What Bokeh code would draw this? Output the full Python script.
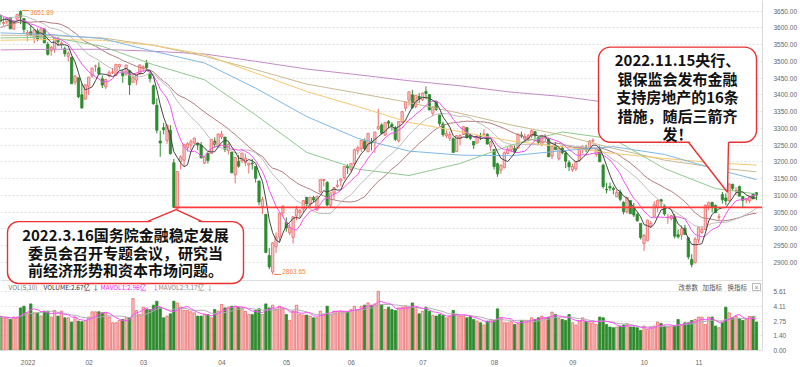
import numpy as np
import pandas as pd
from bokeh.plotting import figure
from bokeh.models import Range1d, FixedTicker, CustomJSTickFormatter, Span, BoxAnnotation, ColumnDataSource
from bokeh.core.properties import value
from bokeh.embed import file_html
from bokeh.resources import INLINE

# ------------------------------------------------------------------ data
month_labels = ["2022", "02", "03", "04", "05", "06", "07", "08", "09", "10", "11"]
month_start_idx = [6, 25, 41, 64, 83, 102, 123, 144, 167, 188, 204]
event_idx = [51, 214]          # 2022-03-15 close level, 2022-11-15

# closes 2021-11-01 .. 2021-12-23 (for the short moving averages)
prior_closes = [3544, 3506, 3499, 3527, 3492, 3499, 3507, 3492, 3533, 3539, 3533, 3522, 3537, 3521,
                3560, 3582, 3589, 3593, 3584, 3564, 3563, 3564,
                3577, 3574, 3607, 3589, 3595, 3638, 3673, 3666, 3681, 3662, 3648, 3675, 3632, 3594,
                3625, 3623, 3643]

opens = [3637, 3613, 3617, 3630, 3596, 3626,
         3649, 3628, 3581, 3588, 3571, 3591, 3573, 3596, 3551, 3532, 3535, 3563, 3552, 3538, 3515, 3512, 3438, 3451, 3400,
         3387, 3426, 3456, 3485, 3481, 3448, 3424, 3456, 3467, 3458, 3484, 3465, 3462, 3472, 3437, 3444,
         3462, 3481, 3494, 3464, 3427, 3369, 3262, 3302, 3264, 3294, 3197, 3060, 3201, 3205, 3243, 3250, 3257, 3254, 3250, 3196, 3225, 3225, 3262,
         3245, 3274, 3274, 3234, 3229, 3161, 3202, 3203, 3197, 3190, 3196, 3186, 3143, 3066, 3043, 2920, 2871, 2946, 2975,
         3047, 3019, 2988, 2974, 3038, 3048, 3059, 3094, 3073, 3093, 3056, 3110, 3144, 3138, 3070, 3107, 3127, 3143, 3153,
         3186, 3177, 3195, 3233, 3239, 3262, 3230, 3262, 3257, 3298, 3310, 3280, 3320, 3312, 3302, 3262, 3319, 3360, 3384, 3400, 3365,
         3395, 3385, 3410, 3401, 3345, 3379, 3340, 3313, 3278, 3270, 3269, 3231, 3270, 3282, 3302, 3277, 3261, 3256, 3278, 3282, 3282,
         3246, 3237, 3194, 3175, 3183, 3225, 3236, 3240, 3241, 3280, 3267, 3272, 3277, 3290, 3273, 3250, 3275, 3269, 3217, 3247, 3209, 3241, 3226,
         3198, 3176, 3179, 3204, 3238, 3242, 3240, 3262, 3222, 3237, 3190, 3118, 3126, 3121, 3095, 3110, 3079, 3050, 3084, 3064, 3042,
         3016, 2956, 2964, 3008, 3037, 3064, 3087, 3068, 3033, 3030, 3036, 2982, 2981, 3002, 2973, 2908,
         2899, 2967, 2989, 2998, 3068, 3079, 3070, 3034, 3102, 3092, 3084, 3133, 3114, 3126, 3096, 3086, 3084, 3103, 3108]
highs = [3640, 3632, 3631, 3632, 3623, 3642,
         3651.89, 3628, 3594, 3608, 3594, 3598, 3598, 3598, 3558, 3546, 3570, 3573, 3560, 3544, 3530, 3514, 3458, 3451, 3434,
         3430, 3453, 3481, 3490, 3497, 3458, 3446, 3473, 3480, 3491, 3492, 3474, 3490, 3475, 3463, 3463,
         3491, 3488, 3504, 3468, 3431, 3390, 3293, 3316, 3310, 3309, 3209, 3171, 3219, 3253, 3258, 3267, 3272, 3256, 3259, 3217, 3226, 3267, 3273,
         3285, 3292, 3274, 3257, 3229, 3213, 3220, 3226, 3225, 3196, 3209, 3186, 3143, 3095, 3043, 2943, 2959, 2989, 3048,
         3070, 3034, 3016, 3036, 3068, 3058, 3085, 3095, 3095, 3098, 3097, 3147, 3150, 3142, 3108, 3125, 3146, 3150, 3187,
         3193, 3195, 3239, 3247, 3265, 3270, 3285, 3271, 3289, 3358, 3315, 3317, 3325, 3318, 3307, 3321, 3350, 3380, 3410, 3415, 3399,
         3406, 3407, 3425, 3402, 3365, 3380, 3340, 3320, 3294, 3291, 3273, 3280, 3281, 3306, 3304, 3284, 3262, 3279, 3286, 3297, 3285,
         3262, 3237, 3197, 3193, 3231, 3245, 3248, 3248, 3285, 3290, 3284, 3283, 3297, 3292, 3274, 3279, 3283, 3271, 3249, 3259, 3241, 3248, 3231,
         3205, 3194, 3200, 3244, 3249, 3251, 3265, 3270, 3237, 3249, 3194, 3137, 3138, 3126, 3117, 3117, 3082, 3094, 3086, 3077, 3048,
         3016, 2985, 3027, 3023, 3082, 3087, 3089, 3073, 3045, 3042, 3044, 2998, 3010, 3012, 2976, 2924,
         2975, 3005, 3008, 3071, 3081, 3079, 3072, 3045, 3110, 3106, 3135, 3134, 3124, 3129, 3098, 3092, 3097, 3104, 3110]
lows = [3608, 3607, 3610, 3596, 3596, 3624,
        3611, 3583, 3560, 3574, 3554, 3560, 3566, 3555, 3517, 3517, 3525, 3545, 3538, 3514, 3499, 3433, 3430, 3390, 3358,
        3387, 3400, 3451, 3469, 3460, 3420, 3417, 3452, 3462, 3457, 3476, 3436, 3457, 3400, 3437, 3429,
        3459, 3469, 3476, 3437, 3371, 3285, 3215, 3282, 3254, 3222, 3062, 3023, 3177, 3187, 3231, 3235, 3253, 3235, 3210, 3194, 3195, 3225, 3242,
        3242, 3268, 3229, 3222, 3167, 3136, 3183, 3196, 3187, 3165, 3177, 3138, 3070, 3044, 2928, 2879, 2863.65, 2928, 2961,
        3036, 2991, 2981, 2956, 3026, 3034, 3047, 3068, 3062, 3080, 3054, 3107, 3126, 3067, 3064, 3087, 3122, 3127, 3146,
        3164, 3169, 3187, 3222, 3230, 3233, 3230, 3234, 3227, 3295, 3282, 3277, 3300, 3293, 3262, 3258, 3315, 3352, 3368, 3358, 3360,
        3375, 3381, 3387, 3354, 3336, 3352, 3307, 3275, 3271, 3262, 3228, 3231, 3249, 3280, 3270, 3265, 3238, 3254, 3265, 3275, 3252,
        3232, 3177, 3155, 3164, 3180, 3222, 3228, 3226, 3240, 3270, 3260, 3261, 3270, 3266, 3250, 3249, 3260, 3214, 3208, 3235, 3204, 3222, 3181,
        3172, 3170, 3173, 3199, 3225, 3229, 3239, 3255, 3215, 3199, 3120, 3106, 3113, 3103, 3095, 3082, 3043, 3046, 3044, 3035, 3021,
        2968, 2934, 2964, 3003, 3037, 3051, 3063, 3039, 3015, 3025, 2971, 2971, 2967, 2983, 2909, 2885,
        2896, 2956, 2985, 2997, 3055, 3049, 3048, 3026, 3075, 3071, 3080, 3113, 3100, 3097, 3064, 3076, 3076, 3089, 3085]
closes = [3618, 3616, 3630, 3597, 3619, 3640,
          3632, 3595, 3586, 3580, 3594, 3567, 3597, 3555, 3521, 3542, 3570, 3558, 3555, 3523, 3524, 3433, 3456, 3394, 3361,
          3430, 3453, 3480, 3486, 3463, 3429, 3446, 3466, 3468, 3491, 3491, 3457, 3489, 3430, 3451, 3462,
          3489, 3484, 3481, 3448, 3373, 3294, 3256, 3296, 3310, 3224, 3063.97, 3171, 3215, 3251, 3254, 3260, 3271, 3250, 3212, 3215, 3204, 3267, 3252,
          3283, 3283, 3237, 3252, 3167, 3213, 3187, 3226, 3211, 3196, 3194, 3151, 3080, 3087, 2929, 2886, 2958, 2975, 3047,
          3068, 3002, 3004, 3036, 3059, 3055, 3084, 3074, 3094, 3086, 3097, 3147, 3147, 3071, 3107, 3123, 3130, 3149, 3186,
          3182, 3195, 3236, 3242, 3264, 3239, 3285, 3256, 3289, 3305, 3285, 3317, 3315, 3307, 3267, 3320, 3350, 3379, 3409, 3362, 3399,
          3388, 3405, 3404, 3355, 3364, 3356, 3314, 3281, 3284, 3282, 3228, 3278, 3279, 3305, 3272, 3270, 3250, 3277, 3276, 3283, 3253,
          3260, 3186, 3164, 3189, 3227, 3237, 3247, 3230, 3282, 3277, 3276, 3278, 3293, 3278, 3258, 3278, 3276, 3215, 3246, 3236, 3241, 3227, 3202,
          3185, 3186, 3200, 3243, 3246, 3236, 3262, 3264, 3238, 3200, 3126, 3116, 3122, 3117, 3109, 3088, 3051, 3094, 3045, 3041, 3024,
          2974, 2980, 3026, 3016, 3072, 3085, 3081, 3044, 3035, 3039, 2978, 2976, 3000, 2983, 2916, 2893,
          2969, 3003, 2998, 3071, 3078, 3064, 3048, 3036, 3087, 3083, 3134, 3120, 3115, 3097, 3085, 3089, 3097, 3089, 3101]
# volume (亿)
volumes = [3.23, 3.07, 3.07, 2.91, 3.14, 3.14, 4.01, 4.17, 3.54, 4.39, 3.54, 3.54, 3.23, 3.70, 3.70, 3.14, 3.76, 3.23, 3.70, 3.07,
           3.07, 2.67, 3.14, 2.76, 2.70, 2.82, 3.14, 3.64, 3.64, 3.64, 3.54, 3.54, 3.14, 2.60, 2.60, 2.82, 2.91, 3.07, 3.07,
           4.89, 3.76, 3.38, 4.08, 3.85, 3.85, 4.27, 4.64, 4.02, 3.07, 3.23, 3.45, 4.64, 4.48,
           4.08, 3.76, 3.76, 3.64, 3.54, 3.23, 3.23, 3.38, 3.38, 3.07, 3.85, 3.70, 4.33, 4.01, 4.08, 4.17, 4.17, 4.08, 4.02, 3.70, 3.38,
           3.38, 3.76, 3.92, 3.38, 4.39, 4.01, 4.27, 3.85, 4.17, 3.95, 3.38, 2.82, 3.70, 4.27, 3.38, 3.33, 3.33, 3.23, 3.07, 3.07,
           3.70, 3.38, 4.17, 3.38, 3.70, 3.70, 3.70, 3.70, 3.64, 3.85, 4.17, 3.85, 4.17, 4.27, 4.48, 4.27, 4.39, 5.58, 4.32, 3.85,
           4.08, 3.85, 3.76, 4.01, 4.08, 4.17, 4.08, 4.48, 4.08, 3.45, 3.70, 4.08, 3.70, 3.29, 3.23, 3.38, 3.29, 3.07, 3.23, 3.76,
           3.38, 3.23, 3.23, 3.07, 3.23, 2.91, 2.76, 2.60, 2.39, 2.76, 2.91, 2.82, 3.92, 3.07, 2.60, 2.60, 2.70, 2.44, 2.51, 2.82,
           2.82, 2.82, 3.07, 2.91, 3.07, 3.23, 3.07, 3.14,
           3.61, 3.38, 3.01, 2.91, 2.82, 3.38, 2.60, 2.39, 2.76, 3.07, 2.76, 2.60, 2.60, 2.44, 3.14, 3.07, 2.44, 2.20, 2.13, 2.20,
           2.29, 2.39, 2.51, 2.20, 2.20, 2.13, 1.88, 2.29, 1.97, 2.20, 2.29, 2.67, 2.54, 2.29, 2.20, 2.29, 2.29, 2.91, 2.39, 2.60,
           2.60, 2.82, 2.91, 3.14, 3.14, 2.44, 3.14, 3.14, 2.29, 2.13, 2.60, 4.08, 3.54, 3.07, 3.23, 2.98, 2.82, 2.91, 3.20, 3.20, 2.67]

# long moving averages at sample days
ma_sample_idx = [0, 15, 30, 45, 60, 75, 90, 105, 120, 135, 150, 165, 180, 195, 210, 222]
ma60_s = [3570, 3572, 3545, 3490, 3445, 3340, 3228, 3178, 3159, 3195, 3250, 3289, 3268, 3180, 3120, 3104]
ma120_s = [3585, 3580, 3568, 3530, 3495, 3420, 3335, 3270, 3232, 3220, 3218, 3233, 3245, 3222, 3178, 3147]
ma_orange_s = [3563, 3565, 3563, 3548, 3520, 3465, 3410, 3365, 3318, 3290, 3262, 3245, 3225, 3210, 3197, 3190]
ma_olive_s = [3578, 3577, 3570, 3548, 3515, 3475, 3432, 3405, 3377, 3345, 3310, 3280, 3240, 3205, 3183, 3170]
ma250_s = [3534, 3536, 3536, 3530, 3522, 3500, 3477, 3460, 3442, 3427, 3408, 3395, 3375, 3341, 3312, 3289]

price_ticks = [2900, 2950, 3000, 3050, 3100, 3150, 3200, 3250, 3300, 3350, 3400, 3450, 3500, 3550, 3600, 3650]
vol_ticks = [0.00, 1.40, 2.75, 4.11, 5.61]
vol_tick_labels = ["0.00", "1.40", "2.75", "4.11", "5.61"]

note1_lines = ["2022.3.16国务院金融稳定发展", "委员会召开专题会议，研究当", "前经济形势和资本市场问题。"]
note2_lines = ["2022.11.15央行、", "银保监会发布金融", "支持房地产的16条", "措施，随后三箭齐", "发！"]
tool_labels = ["改参数", "加指标", "换指标"]

N = len(closes)
assert len(opens) == N and len(highs) == N and len(lows) == N and len(volumes) == N

# ------------------------------------------------------------------ layout (pixels)
W, H = 800, 367
FW, FH = 762, 353
PX_DAY = 3.407
X0 = 0.117
X1 = X0 + FW / PX_DAY
PX_PT = 0.33773
Y1 = 3681.68
Y0 = Y1 - FH / PX_PT
PX_VOL = 10.642
V0 = -0.028
V1 = V0 + FH / PX_VOL


def sx(px):
    return X0 + px / PX_DAY


def sy(py):
    return Y1 - py / PX_PT


p = figure(width=W, height=H, x_range=Range1d(X0, X1), y_range=Range1d(Y0, Y1),
           y_axis_location="right", output_backend="svg", toolbar_location=None,
           min_border_left=0, min_border_top=0, min_border_right=W - FW, min_border_bottom=H - FH)
p.extra_y_ranges = {"vol": Range1d(V0, V1)}
p.outline_line_color = None
p.background_fill_color = "white"
p.border_fill_color = "white"

# right axis: price ticks and volume ticks
vol_tick_pos = [Y0 + (v - V0) * (Y1 - Y0) / (V1 - V0) for v in vol_ticks]
yticker = FixedTicker(ticks=[float(t) for t in price_ticks] + vol_tick_pos)
ax = p.yaxis[0]
ax.ticker = yticker
ax.formatter = CustomJSTickFormatter(args=dict(vt=vol_tick_pos, vl=vol_tick_labels), code="""
for (let i = 0; i < vt.length; i++) { if (Math.abs(tick - vt[i]) < 1e-6) { return vl[i]; } }
return tick.toFixed(2);
""")
ax.major_tick_line_color = None
ax.minor_tick_line_color = None
ax.axis_line_color = "#d9d9d9"
ax.major_label_text_font = "Liberation Sans"
ax.major_label_text_font_size = "6.5px"
ax.major_label_text_color = "#666666"
ax.major_label_standoff = 5

p.ygrid[0].ticker = yticker
p.ygrid.grid_line_color = "#e2e2e2"
p.ygrid.grid_line_dash = "2 2"
p.xgrid.visible = False

# bottom axis: months (labels start at the first trading day of each month)
xt = [m + len(lb) * 0.55 for m, lb in zip(month_start_idx, month_labels)]
p.xaxis.ticker = FixedTicker(ticks=xt)
p.xaxis.formatter = CustomJSTickFormatter(args=dict(t=xt, l=month_labels), code="""
for (let i = 0; i < t.length; i++) { if (Math.abs(tick - t[i]) < 1e-6) { return l[i]; } }
return "";
""")
p.xaxis.major_tick_line_color = None
p.xaxis.minor_tick_line_color = None
p.xaxis.axis_line_color = "#e0e0e0"
p.xaxis.major_label_text_font = "Liberation Sans"
p.xaxis.major_label_text_font_size = "6.5px"
p.xaxis.major_label_text_color = "#666666"
p.xaxis.major_label_standoff = 3

# panel separator
p.add_layout(Span(location=sy(282.5), dimension="width", line_color="#dddddd", line_width=1))

# ------------------------------------------------------------------ candles + volume
o = np.array(opens, float)
c = np.array(closes, float)
h = np.array(highs, float)
l = np.array(lows, float)
v = np.array(volumes, float)
up = c >= o
UP_FILL, UP_LINE, DN = "#f9c5c5", "#ec6a6a", "#2e8b2e"
src = ColumnDataSource(dict(
    x=np.arange(N), o=o, c=c, h=h, l=l, v=v,
    top=np.maximum(o, c), bottom=np.minimum(o, c),
    fill=np.where(up, UP_FILL, DN), line=np.where(up, UP_LINE, DN)))

p.segment(x0="x", y0="h", x1="x", y1="l", line_color="line", line_width=1, source=src)
p.vbar(x="x", width=0.68, top="top", bottom="bottom", fill_color="fill", line_color="line",
       line_width=0.8, source=src)
p.vbar(x="x", width=0.68, top="v", bottom=0, fill_color="fill", line_color="line",
       line_width=0.8, source=src, y_range_name="vol")

# moving averages
allc = pd.Series(list(prior_closes) + list(closes), dtype=float)
P = len(prior_closes)
xi = np.arange(N)
for n, col in [(30, "#b37a7a"), (20, "#bdbdbd")]:
    p.line(xi, allc.rolling(n).mean().values[P:], line_color=col, line_width=1)
p.line(ma_sample_idx, ma250_s, line_color="#c58ac8", line_width=1)
p.line(ma_sample_idx, ma_olive_s, line_color="#c9bb8e", line_width=1)
p.line(ma_sample_idx, ma_orange_s, line_color="#f6c870", line_width=1)
p.line(ma_sample_idx, ma120_s, line_color="#7fb7e6", line_width=1)
p.line(ma_sample_idx, ma60_s, line_color="#8fc98f", line_width=1)
p.line(xi, allc.rolling(10).mean().values[P:], line_color="#f050f0", line_width=1)
p.line(xi, allc.rolling(5).mean().values[P:], line_color="#444444", line_width=1)

vs = pd.Series(v)
p.line(xi, vs.rolling(10, min_periods=1).mean().values, line_color="#b0b0b0", line_width=1, y_range_name="vol")
p.line(xi, vs.rolling(5, min_periods=1).mean().values, line_color="#ff4dff", line_width=1, y_range_name="vol")

# red level line from the 3.15 close
e0 = event_idx[0]
p.segment(x0=[e0], y0=[c[e0]], x1=[X1], y1=[c[e0]], line_color="#ff3b3b", line_width=1.6)

# extreme markers
hi_i = int(np.argmax(h))
lo_i = int(np.argmin(l))
MARK = "#f0823c"
p.segment(x0=[hi_i + 0.4, lo_i + 0.4], y0=[h[hi_i], l[lo_i]], x1=[hi_i + 2.5, lo_i + 2.5],
          y1=[h[hi_i], l[lo_i]], line_color=MARK, line_width=1)
p.text(x=[hi_i + 2.8, lo_i + 2.8], y=[h[hi_i] - 6, l[lo_i] + 8], text=[f"{h[hi_i]:.2f}", f"{l[lo_i]:.2f}"],
       text_font=value("Liberation Sans"), text_font_size="6.5px", text_color=MARK,
       text_align="left", text_baseline="middle")

# ------------------------------------------------------------------ volume legend row
ly = sy(289)
mv5 = v[-5:].mean()
mv10 = v[-10:].mean()
leg_x = [sx(8), sx(43), sx(92), sx(100), sx(152), sx(158), sx(206)]
leg_t = ["VOL(5,10)", f"VOLUME:{v[-1]:.2f}亿", "↓", f"MAVOL1:{mv5:.2f}亿", "↓", f"MAVOL2:{mv10:.2f}亿", "↓"]
leg_c = ["#777777", "#333333", "#333333", "#ee22ee", "#ee22ee", "#888888", "#888888"]
p.text(x=leg_x, y=[ly] * len(leg_x), text=leg_t, text_color=leg_c,
       text_font=value("Noto Sans CJK SC"), text_font_size="6.5px", text_align="left", text_baseline="middle")
p.text(x=[sx(678), sx(702), sx(727)], y=[ly] * 3, text=tool_labels, text_color="#555555",
       text_font=value("Noto Sans CJK SC"), text_font_size="6.5px", text_align="left", text_baseline="middle")
p.rect(x=[sx(756)], y=[ly], width=8, height=7, width_units="screen", height_units="screen",
       fill_color=None, line_color="#aaaaaa", line_width=0.8)
p.text(x=[sx(756)], y=[ly], text=["×"], text_color="#888888", text_font=value("Liberation Sans"),
       text_font_size="7px", text_align="center", text_baseline="middle")

# ------------------------------------------------------------------ callouts
RED = "#ea3030"
FONT = value("Noto Sans CJK SC")
# box 1
b1 = dict(l=sx(7), r=sx(243), t=sy(223), b=sy(285.5))
p.add_layout(BoxAnnotation(left=b1["l"], right=b1["r"], top=b1["t"], bottom=b1["b"], fill_color="white",
                           fill_alpha=1.0, line_color=RED, line_alpha=1.0, line_width=1.4, border_radius=11))
tip1 = (e0 + 0.7, c[e0] - 7)
bx0, bx1 = sx(146.7), sx(201.7)
p.patch([bx0, tip1[0], bx1], [b1["t"] - 6, tip1[1], b1["t"] - 6], fill_color="white", line_color=None, level="overlay")
p.segment(x0=[bx0, bx1], y0=[b1["t"], b1["t"]], x1=[tip1[0], tip1[0]], y1=[tip1[1], tip1[1]],
          line_color=RED, line_width=1.4, level="overlay")
p.text(x=[sx(125)] * 3, y=[sy(236.5), sy(254), sy(271.5)], text=note1_lines, text_font=FONT,
       text_font_size="15px", text_font_style="bold", text_color="#111111", text_align="center",
       text_baseline="middle", level="overlay")

# box 2
e1 = event_idx[1]
b2 = dict(l=sx(598), r=sx(756), t=sy(47), b=sy(143))
p.add_layout(BoxAnnotation(left=b2["l"], right=b2["r"], top=b2["t"], bottom=b2["b"], fill_color="white",
                           fill_alpha=1.0, line_color=RED, line_alpha=1.0, line_width=1.4, border_radius=12))
tip2 = (e1 - 0.5, (o[e1] + c[e1]) / 2)
cx0, cx1 = sx(688), sx(728)
p.patch([cx0, tip2[0], cx1], [b2["b"] + 6, tip2[1], b2["b"] + 6], fill_color="white", line_color=None, level="overlay")
p.segment(x0=[cx0, cx1], y0=[b2["b"], b2["b"]], x1=[tip2[0], tip2[0]], y1=[tip2[1], tip2[1]],
          line_color=RED, line_width=1.4, level="overlay")
p.text(x=[sx(677)] * 5, y=[sy(60), sy(78.5), sy(97), sy(115.5), sy(134)], text=note2_lines,
       text_font=FONT, text_font_size="15px", text_font_style="bold", text_color="#111111", text_align="center",
       text_baseline="middle", level="overlay")

open("out.html", "w").write(file_html(p, INLINE))
